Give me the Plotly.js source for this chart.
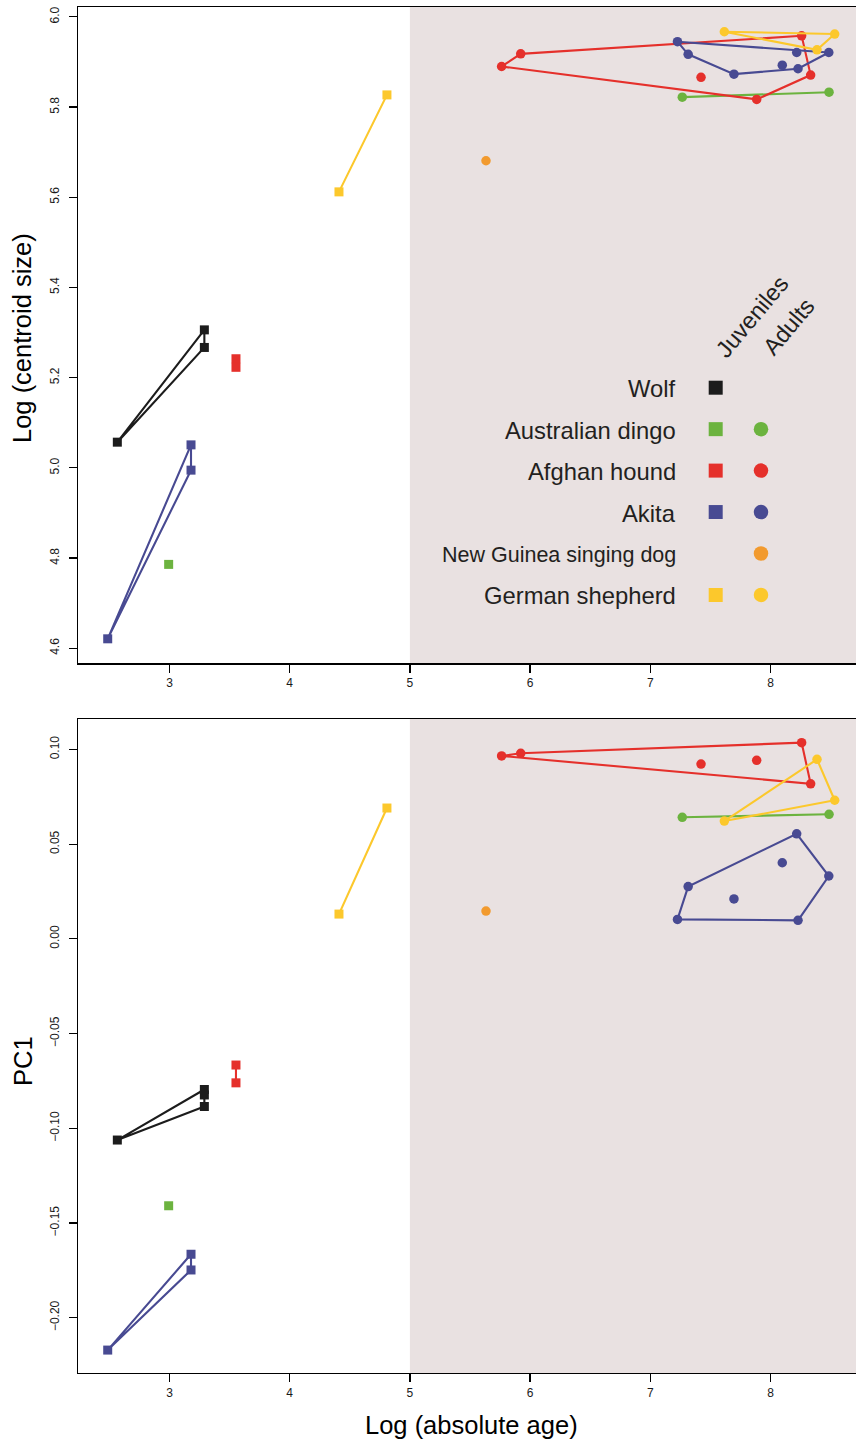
<!DOCTYPE html>
<html>
<head>
<meta charset="utf-8">
<script src="https://cdn.plot.ly/plotly-3.0.1.min.js"></script>
<style>
  html, body { margin: 0; padding: 0; background: #fff; overflow: hidden; }
  #chart { width: 856px; height: 1441px; }
</style>
</head>
<body>
<div id="chart"></div>
<script>
// ---------------- DATA ----------------
// Log (absolute age) of juveniles / adults, and their Log(centroid size) and PC1 values
const wolfJuvAgeCS   = [2.566, 3.29, 3.29];
const wolfJuvCS      = [5.057, 5.306, 5.267];
const wolfJuvAgePC   = [2.566, 3.29, 3.29, 3.29];
const wolfJuvPC1     = [-0.1062, -0.0795, -0.0824, -0.0885];

const dingoJuvAge    = [2.993];
const dingoJuvCS     = [4.786];
const dingoJuvPC1    = [-0.1409];
const dingoAdultAge  = [7.266, 8.487];
const dingoAdultCS   = [5.822, 5.833];
const dingoAdultPC1  = [0.0642, 0.0658];

const afghanJuvAge   = [3.553, 3.553];
const afghanJuvCS    = [5.242, 5.223];
const afghanJuvPC1   = [-0.0666, -0.0760];
const afghanAdultAge = [5.763, 5.922, 7.422, 7.885, 8.259, 8.334];
const afghanAdultCS  = [5.890, 5.918, 5.866, 5.817, 5.958, 5.871];
const afghanAdultPC1 = [0.0966, 0.0980, 0.0923, 0.0943, 0.1036, 0.0819];

const akitaJuvAge    = [2.486, 3.179, 3.179];
const akitaJuvCS     = [4.621, 5.051, 4.995];
const akitaJuvPC1    = [-0.2171, -0.1665, -0.1748];
const akitaAdultAge  = [7.226, 7.315, 7.696, 8.098, 8.218, 8.229, 8.485];
const akitaAdultCS   = [5.945, 5.917, 5.873, 5.893, 5.921, 5.885, 5.921];
const akitaAdultPC1  = [0.0103, 0.0276, 0.0211, 0.0402, 0.0555, 0.0098, 0.0332];

const ngsdAdultAge   = [5.633];
const ngsdAdultCS    = [5.681];
const ngsdAdultPC1   = [0.0147];

const gsdJuvAge      = [4.410, 4.809];
const gsdJuvCS       = [5.612, 5.827];
const gsdJuvPC1      = [0.0131, 0.0691];
const gsdAdultAge    = [7.616, 8.387, 8.534];
const gsdAdultCS     = [5.967, 5.927, 5.962];
const gsdAdultPC1    = [0.0622, 0.0948, 0.0732];

const legendLabels   = ["Wolf", "Australian dingo", "Afghan hound", "Akita", "New Guinea singing dog", "German shepherd"];
const legendHasJuv   = [true, true, true, true, false, true];
const legendHasAdult = [false, true, true, true, true, true];
const xTickVals      = [3, 4, 5, 6, 7, 8];
const csTickVals     = [4.6, 4.8, 5.0, 5.2, 5.4, 5.6, 5.8, 6.0];
const pcTickVals     = [-0.20, -0.15, -0.10, -0.05, 0.00, 0.05, 0.10];
const domesticAgeStart = 5;

// ---------------- STYLE ----------------
const COL = {
  wolf: '#1c1c1c', dingo: '#6cb33f', afghan: '#e5302b',
  akita: '#484a92', ngsd: '#f29a2e', gsd: '#fcc82c'
};
const legendColors = [COL.wolf, COL.dingo, COL.afghan, COL.akita, COL.ngsd, COL.gsd];
const FONT = '"Liberation Sans", Arial, Helvetica, sans-serif';
const SHADE = '#e9e1e1';

const W = 856, H = 1441;
const M = {l: 78, r: 0, t: 7, b: 68};
const plotW = W - M.l - M.r, plotH = H - M.t - M.b;
const topPanelBottomPx = 663.3, botPanelTopPx = 719;
const xRange = [2.2388, 8.7113];
const csRange = [4.5667, 6.0219];
const pcRange = [-0.2292, 0.1161];

function paperX(px) { return (px - M.l) / plotW; }
function paperY(py) { return (H - M.b - py) / plotH; }
const topDomain = [paperY(topPanelBottomPx), 1];
const botDomain = [0, paperY(botPanelTopPx)];

// convex hull (monotone chain)
function hull(xs, ys) {
  const pts = xs.map((x, i) => [x, ys[i]]).sort((a, b) => a[0] - b[0] || a[1] - b[1]);
  if (pts.length < 3) return pts;
  const cross = (o, a, b) => (a[0]-o[0])*(b[1]-o[1]) - (a[1]-o[1])*(b[0]-o[0]);
  const lower = [], upper = [];
  for (const p of pts) { while (lower.length >= 2 && cross(lower[lower.length-2], lower[lower.length-1], p) <= 0) lower.pop(); lower.push(p); }
  for (let i = pts.length - 1; i >= 0; i--) { const p = pts[i]; while (upper.length >= 2 && cross(upper[upper.length-2], upper[upper.length-1], p) <= 0) upper.pop(); upper.push(p); }
  upper.pop(); lower.pop();
  return lower.concat(upper);
}

const traces = [];
function addGroup(xs, ys, color, symbol, xa, ya, size) {
  if (xs.length >= 2) {
    const h = hull(xs, ys);
    const hx = h.map(p => p[0]), hy = h.map(p => p[1]);
    hx.push(hx[0]); hy.push(hy[0]);
    traces.push({x: hx, y: hy, xaxis: xa, yaxis: ya, mode: 'lines', type: 'scatter',
      line: {color: color, width: 2.1}, hoverinfo: 'skip', showlegend: false});
  }
  traces.push({x: xs, y: ys, xaxis: xa, yaxis: ya, mode: 'markers', type: 'scatter',
    marker: {color: color, symbol: symbol, size: size || 9, line: {width: 0}}, showlegend: false, cliponaxis: false});
}

const groups = [
  // [age, csVals, pcAge, pcVals, color, symbol]
  [wolfJuvAgeCS, wolfJuvCS, wolfJuvAgePC, wolfJuvPC1, COL.wolf, 'square'],
  [dingoJuvAge, dingoJuvCS, dingoJuvAge, dingoJuvPC1, COL.dingo, 'square'],
  [afghanJuvAge, afghanJuvCS, afghanJuvAge, afghanJuvPC1, COL.afghan, 'square'],
  [akitaJuvAge, akitaJuvCS, akitaJuvAge, akitaJuvPC1, COL.akita, 'square'],
  [gsdJuvAge, gsdJuvCS, gsdJuvAge, gsdJuvPC1, COL.gsd, 'square'],
  [dingoAdultAge, dingoAdultCS, dingoAdultAge, dingoAdultPC1, COL.dingo, 'circle'],
  [afghanAdultAge, afghanAdultCS, afghanAdultAge, afghanAdultPC1, COL.afghan, 'circle'],
  [akitaAdultAge, akitaAdultCS, akitaAdultAge, akitaAdultPC1, COL.akita, 'circle'],
  [gsdAdultAge, gsdAdultCS, gsdAdultAge, gsdAdultPC1, COL.gsd, 'circle'],
  [ngsdAdultAge, ngsdAdultCS, ngsdAdultAge, ngsdAdultPC1, COL.ngsd, 'circle']
];
groups.forEach(g => {
  const sz = g[5] === 'square' ? 9 : 9.5;
  addGroup(g[0], g[1], g[4], g[5], 'x', 'y', sz);
  addGroup(g[2], g[3], g[4], g[5], 'x2', 'y2', sz);
});

// legend markers, placed in top-panel pixel space converted to data
const legRow0 = 387.7, legStep = 41.45, legJuvPx = 715.7, legAdultPx = 761, legTextRight = 677.5;
function pxToX(px) { return xRange[0] + (px - M.l) / plotW * (xRange[1] - xRange[0]); }
function pyToCS(py) { return csRange[1] - (py - M.t) / (topPanelBottomPx - M.t) * (csRange[1] - csRange[0]); }
const annotations = [];
legendLabels.forEach((lab, i) => {
  const py = legRow0 + i * legStep;
  if (legendHasJuv[i]) traces.push({x: [pxToX(legJuvPx)], y: [pyToCS(py)], xaxis: 'x', yaxis: 'y', mode: 'markers', type: 'scatter',
    marker: {color: legendColors[i], symbol: 'square', size: 14, line: {width: 0}}, showlegend: false, hoverinfo: 'skip'});
  if (legendHasAdult[i]) traces.push({x: [pxToX(legAdultPx)], y: [pyToCS(py)], xaxis: 'x', yaxis: 'y', mode: 'markers', type: 'scatter',
    marker: {color: legendColors[i], symbol: 'circle', size: 14.5, line: {width: 0}}, showlegend: false, hoverinfo: 'skip'});
  annotations.push({text: lab, xref: 'paper', yref: 'paper', x: paperX(legTextRight), y: paperY(py + 1),
    xanchor: 'right', yanchor: 'middle', showarrow: false,
    font: {family: FONT, size: i === 4 ? 21.5 : 23.8, color: '#231f20'}});
});
annotations.push({text: 'Juveniles', xref: 'paper', yref: 'paper', x: paperX(751.7), y: paperY(316.7),
  xanchor: 'center', yanchor: 'middle', textangle: -50, showarrow: false, font: {family: FONT, size: 23.5, color: '#231f20'}});
annotations.push({text: 'Adults', xref: 'paper', yref: 'paper', x: paperX(788.3), y: paperY(326.7),
  xanchor: 'center', yanchor: 'middle', textangle: -50, showarrow: false, font: {family: FONT, size: 23.5, color: '#231f20'}});

// axis titles
annotations.push({text: 'Log (centroid size)', xref: 'paper', yref: 'paper', x: paperX(22), y: paperY(338),
  xanchor: 'center', yanchor: 'middle', textangle: -90, showarrow: false, font: {family: FONT, size: 25.5, color: '#000'}});
annotations.push({text: 'PC1', xref: 'paper', yref: 'paper', x: paperX(23), y: paperY(1061),
  xanchor: 'center', yanchor: 'middle', textangle: -90, showarrow: false, font: {family: FONT, size: 25.5, color: '#000'}});
annotations.push({text: 'Log (absolute age)', xref: 'paper', yref: 'paper', x: paperX(471), y: paperY(1425),
  xanchor: 'center', yanchor: 'middle', showarrow: false, font: {family: FONT, size: 25.5, color: '#000'}});

const axBase = {
  showline: true, linecolor: '#000', linewidth: 1.3, ticks: 'outside', ticklen: 8, tickwidth: 1.2,
  tickcolor: '#000', zeroline: false, showgrid: false, fixedrange: true,
  tickfont: {family: FONT, size: 12, color: '#1a1a1a'}
};

const layout = {
  width: W, height: H, margin: M, paper_bgcolor: '#fff', plot_bgcolor: '#fff', showlegend: false,
  xaxis: Object.assign({}, axBase, {domain: [0, 1], anchor: 'y', range: xRange, tickvals: xTickVals, mirror: true}),
  yaxis: Object.assign({}, axBase, {domain: topDomain, anchor: 'x', range: csRange, tickvals: csTickVals,
    tickformat: '.1f', tickangle: -90, ticklabelstandoff: 5}),
  xaxis2: Object.assign({}, axBase, {domain: [0, 1], anchor: 'y2', range: xRange, tickvals: xTickVals, mirror: true}),
  yaxis2: Object.assign({}, axBase, {domain: botDomain, anchor: 'x2', range: pcRange, tickvals: pcTickVals,
    tickformat: '.2f', tickangle: -90, ticklabelstandoff: 5}),
  shapes: [
    {type: 'rect', xref: 'x', yref: 'y domain', x0: domesticAgeStart, x1: xRange[1], y0: 0, y1: 1,
      fillcolor: SHADE, line: {width: 0}, layer: 'below'},
    {type: 'rect', xref: 'x2', yref: 'y2 domain', x0: domesticAgeStart, x1: xRange[1], y0: 0, y1: 1,
      fillcolor: SHADE, line: {width: 0}, layer: 'below'}
  ],
  annotations: annotations
};

Plotly.newPlot('chart', traces, layout, {staticPlot: true, displayModeBar: false});
</script>
</body>
</html>
